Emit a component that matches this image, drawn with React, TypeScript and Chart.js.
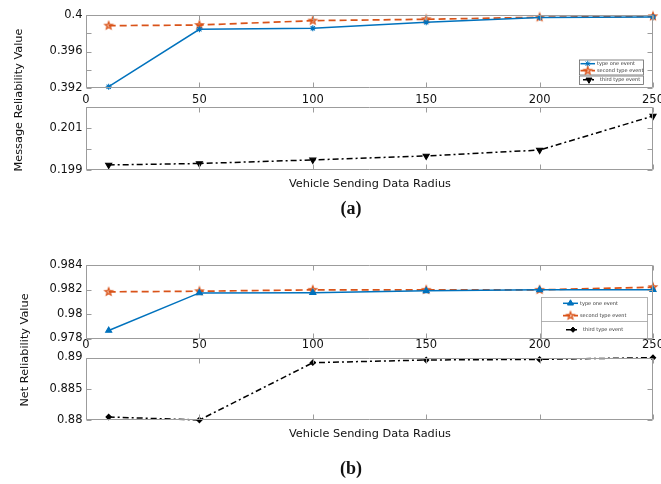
import React, { useEffect, useRef } from 'react';
import { Chart, registerables } from 'chart.js';
import { drawPoint } from 'chart.js/helpers';

Chart.register(...registerables);

// ---------- data ----------
const radius = [10, 50, 100, 150, 200, 250];
const xTicks = [0, 50, 100, 150, 200, 250];
const seriesLabels = ['type one event', 'second type event', 'third type event'];

// (a) Message Reliability Value
const msgTypeOne = [0.39214, 0.39843, 0.39854, 0.3992, 0.39973, 0.39978];
const msgTypeTwo = [0.39883, 0.3989, 0.39938, 0.39953, 0.39975, 0.39986];
const msgTypeThree = [0.19924, 0.19931, 0.19948, 0.19967, 0.19995, 0.20157];
const msgUpperTicks = [0.392, 0.394, 0.396, 0.398, 0.4];
const msgUpperTickLabels = ['0.392', '', '0.396', '', '0.4'];
const msgLowerTicks = [0.199, 0.2, 0.201, 0.202];
const msgLowerTickLabels = ['0.199', '', '0.201', ''];

// (b) Net Reliability Value
const netTypeOne = [0.97865, 0.98172, 0.98174, 0.98189, 0.98197, 0.98198];
const netTypeTwo = [0.98181, 0.98186, 0.98197, 0.98197, 0.98197, 0.98219];
const netTypeThree = [0.88048, 0.88, 0.88917, 0.8896, 0.8897, 0.88997];
const netUpperTicks = [0.978, 0.98, 0.982, 0.984];
const netUpperTickLabels = ['0.978', '0.98', '0.982', '0.984'];
const netLowerTicks = [0.88, 0.885, 0.89];
const netLowerTickLabels = ['0.88', '0.885', '0.89'];

// ---------- styling ----------
const W = 661;
const H = 484;
const PLOT_LEFT = 86;
const PLOT_RIGHT = 653;
const BLUE = '#0072BD';
const ORANGE = '#D95319';
const BLACK = '#000000';
const AXIS = '#9c9c9c';
const TEXT = '#111111';
const FONT = "'DejaVu Sans', Verdana, sans-serif";

type Series = {
  label: string;
  values: number[];
  color: string;
  width: number;
  dash: number[];
  pointStyle: string;
  radius: number;
  rotation: number;
};

type LegendEntry = { ds: number; y: number; x1: number; x2: number; tx: number };
type LegendGroup = { box: number[]; divider?: number; border: string; entries: LegendEntry[] };

type Sub = {
  top: number;
  bottom: number;
  min: number;
  max: number;
  ticks: number[];
  labels: string[];
  xLabels: boolean;
  xPad: number;
  series: Series[];
  legend?: LegendGroup[];
};

function pentagram(color: string, r: number): HTMLCanvasElement {
  const s = Math.ceil(r * 2 + 4);
  const c = document.createElement('canvas');
  c.width = s;
  c.height = s;
  const g = c.getContext('2d')!;
  g.translate(s / 2, s / 2);
  g.beginPath();
  for (let k = 0; k < 10; k++) {
    const rr = k % 2 === 0 ? r : r * 0.42;
    const a = -Math.PI / 2 + (k * Math.PI) / 5;
    const px = rr * Math.cos(a);
    const py = rr * Math.sin(a);
    if (k === 0) g.moveTo(px, py);
    else g.lineTo(px, py);
  }
  g.closePath();
  g.fillStyle = 'rgba(217,83,25,0.35)';
  g.fill();
  g.strokeStyle = color;
  g.lineWidth = 1.2;
  g.stroke();
  return c;
}

function makeFrame(legend?: LegendGroup[]) {
  return {
    id: 'frame',
    afterDraw(chart: any) {
      const { ctx, chartArea: a } = chart;
      const xs = chart.scales.x;
      const ys = chart.scales.y;
      const L = Math.round(a.left) + 0.5;
      const R = Math.round(a.right) - 0.5;
      const T = Math.round(a.top) + 0.5;
      const B = Math.round(a.bottom) - 0.5;
      const tl = 5;
      ctx.save();
      ctx.setLineDash([]);
      ctx.strokeStyle = AXIS;
      ctx.lineWidth = 1;
      ctx.beginPath();
      ctx.rect(L, T, R - L, B - T);
      xs.ticks.forEach((t: any) => {
        const p = Math.round(xs.getPixelForValue(t.value)) + 0.5;
        ctx.moveTo(p, T);
        ctx.lineTo(p, T + tl);
        ctx.moveTo(p, B);
        ctx.lineTo(p, B - tl);
      });
      ys.ticks.forEach((t: any) => {
        const p = Math.round(ys.getPixelForValue(t.value)) + 0.5;
        ctx.moveTo(L, p);
        ctx.lineTo(L + tl, p);
        ctx.moveTo(R, p);
        ctx.lineTo(R - tl, p);
      });
      ctx.stroke();

      if (legend) {
        legend.forEach((grp) => {
          const [x1, y1, x2, y2] = grp.box;
          ctx.fillStyle = '#ffffff';
          ctx.fillRect(x1, y1, x2 - x1, y2 - y1);
          ctx.strokeStyle = grp.border;
          ctx.lineWidth = 0.8;
          ctx.setLineDash([]);
          ctx.strokeRect(x1 + 0.5, y1 + 0.5, x2 - x1, y2 - y1);
          if (grp.divider !== undefined) {
            ctx.beginPath();
            ctx.moveTo(x1 + 0.5, grp.divider + 0.5);
            ctx.lineTo(x2 + 0.5, grp.divider + 0.5);
            ctx.stroke();
          }
          grp.entries.forEach((e) => {
            const ds: any = chart.data.datasets[e.ds];
            ctx.save();
            ctx.strokeStyle = ds.borderColor;
            ctx.lineWidth = ds.borderWidth;
            ctx.setLineDash(ds.borderDash || []);
            ctx.beginPath();
            ctx.moveTo(e.x1, e.y);
            ctx.lineTo(e.x2, e.y);
            ctx.stroke();
            ctx.setLineDash([]);
            ctx.fillStyle = ds.pointBackgroundColor;
            ctx.strokeStyle = ds.borderColor;
            ctx.lineWidth = 1;
            drawPoint(
              ctx,
              {
                pointStyle: ds.pointStyle,
                rotation: ds.pointRotation || 0,
                radius: ds.pointRadius,
                borderWidth: 1,
              } as any,
              (e.x1 + e.x2) / 2,
              e.y
            );
            ctx.restore();
            ctx.fillStyle = '#333333';
            ctx.font = `5px ${FONT}`;
            ctx.textBaseline = 'middle';
            ctx.textAlign = 'left';
            ctx.fillText(ds.label, e.tx, e.y);
          });
        });
      }
      ctx.restore();
    },
  };
}

function buildConfig(sub: Sub, star: HTMLCanvasElement): any {
  return {
    type: 'line',
    data: {
      datasets: sub.series.map((s) => ({
        label: s.label,
        data: radius.map((x, i) => ({ x, y: s.values[i] })),
        borderColor: s.color,
        backgroundColor: s.color,
        borderWidth: s.width,
        borderDash: s.dash,
        pointStyle: s.pointStyle === 'pentagram' ? star : s.pointStyle,
        pointRadius: s.radius,
        pointRotation: s.rotation,
        pointBorderWidth: 1.1,
        pointBackgroundColor: s.color,
        pointBorderColor: s.color,
        tension: 0,
        fill: false,
        clip: false,
      })),
    },
    options: {
      responsive: false,
      animation: false,
      devicePixelRatio: 1,
      events: [],
      layout: { padding: { left: 0, right: W - PLOT_RIGHT, top: sub.top, bottom: 0 } },
      plugins: { legend: { display: false }, tooltip: { enabled: false } },
      scales: {
        x: {
          type: 'linear',
          min: 0,
          max: 250,
          afterBuildTicks: (s: any) => {
            s.ticks = xTicks.map((value) => ({ value }));
          },
          afterFit: (s: any) => {
            s.height = H - sub.bottom;
            s.paddingLeft = 0;
            s.paddingRight = 0;
          },
          grid: { display: false, drawTicks: false },
          border: { display: false },
          ticks: {
            display: sub.xLabels,
            autoSkip: false,
            maxRotation: 0,
            padding: sub.xPad,
            color: TEXT,
            font: { family: FONT, size: 11.5 },
            callback: (v: number) => String(v),
          },
        },
        y: {
          type: 'linear',
          min: sub.min,
          max: sub.max,
          afterBuildTicks: (s: any) => {
            s.ticks = sub.ticks.map((value) => ({ value }));
          },
          afterFit: (s: any) => {
            s.width = PLOT_LEFT;
            s.paddingTop = 0;
            s.paddingBottom = 0;
          },
          grid: { display: false, drawTicks: false },
          border: { display: false },
          ticks: {
            padding: 3.5,
            color: TEXT,
            font: { family: FONT, size: 11.5 },
            callback: (v: number) => {
              const i = sub.ticks.findIndex((t) => Math.abs(t - v) < 1e-9);
              return i >= 0 ? sub.labels[i] : '';
            },
          },
        },
      },
    },
    plugins: [makeFrame(sub.legend)],
  };
}

const blueA: Omit<Series, 'values'> = { label: seriesLabels[0], color: BLUE, width: 1.5, dash: [], pointStyle: 'star', radius: 3, rotation: 0 };
const orange: Omit<Series, 'values'> = { label: seriesLabels[1], color: ORANGE, width: 1.7, dash: [7, 4], pointStyle: 'pentagram', radius: 4, rotation: 0 };
const blackA: Omit<Series, 'values'> = { label: seriesLabels[2], color: BLACK, width: 1.5, dash: [6, 3, 2, 3], pointStyle: 'triangle', radius: 3.5, rotation: 180 };
const blueB: Omit<Series, 'values'> = { label: seriesLabels[0], color: BLUE, width: 1.5, dash: [], pointStyle: 'triangle', radius: 3.5, rotation: 0 };
const blackB: Omit<Series, 'values'> = { label: seriesLabels[2], color: BLACK, width: 1.5, dash: [6, 3, 2, 3], pointStyle: 'rectRot', radius: 2.6, rotation: 0 };

const subplots: Sub[] = [
  {
    top: 15, bottom: 88, min: 0.392, max: 0.4, ticks: msgUpperTicks, labels: msgUpperTickLabels,
    xLabels: true, xPad: 5,
    series: [
      { ...blueA, values: msgTypeOne },
      { ...orange, values: msgTypeTwo },
      { ...blackA, values: msgTypeThree },
    ],
    legend: [
      {
        box: [579, 59.5, 643, 74.5], border: '#666666',
        entries: [
          { ds: 0, y: 63.7, x1: 580.5, x2: 595, tx: 597 },
          { ds: 1, y: 70.7, x1: 580.5, x2: 595, tx: 597 },
        ],
      },
      {
        box: [579, 75.5, 643, 84], border: '#666666',
        entries: [{ ds: 2, y: 79.8, x1: 583, x2: 595, tx: 600 }],
      },
    ],
  },
  {
    top: 107, bottom: 170, min: 0.199, max: 0.202, ticks: msgLowerTicks, labels: msgLowerTickLabels,
    xLabels: false, xPad: 0,
    series: [
      { ...blueA, values: msgTypeOne },
      { ...orange, values: msgTypeTwo },
      { ...blackA, values: msgTypeThree },
    ],
  },
  {
    top: 265, bottom: 338.5, min: 0.978, max: 0.984, ticks: netUpperTicks, labels: netUpperTickLabels,
    xLabels: true, xPad: 0,
    series: [
      { ...blueB, values: netTypeOne },
      { ...orange, values: netTypeTwo },
      { ...blackB, values: netTypeThree },
    ],
    legend: [
      {
        box: [541, 297, 647, 338], divider: 321, border: '#a0a0a0',
        entries: [
          { ds: 0, y: 303.3, x1: 563, x2: 578, tx: 580 },
          { ds: 1, y: 315.7, x1: 563, x2: 578, tx: 580 },
          { ds: 2, y: 329.7, x1: 566, x2: 580, tx: 583 },
        ],
      },
    ],
  },
  {
    top: 357.5, bottom: 420, min: 0.88, max: 0.89, ticks: netLowerTicks, labels: netLowerTickLabels,
    xLabels: false, xPad: 0,
    series: [
      { ...blueB, values: netTypeOne },
      { ...orange, values: netTypeTwo },
      { ...blackB, values: netTypeThree },
    ],
  },
];

const textStyle: React.CSSProperties = {
  position: 'absolute',
  whiteSpace: 'nowrap',
  fontFamily: FONT,
  fontSize: '11.3px',
  color: TEXT,
  lineHeight: 1,
};

function Label({ x, y, text, rotate, style }: { x: number; y: number; text: string; rotate?: boolean; style?: React.CSSProperties }) {
  return (
    <div
      style={{
        ...textStyle,
        left: x,
        top: y,
        transform: `translate(-50%, -50%)${rotate ? ' rotate(-90deg)' : ''}`,
        ...style,
      }}
    >
      {text}
    </div>
  );
}

export default function App() {
  const refs = [useRef<HTMLCanvasElement>(null), useRef<HTMLCanvasElement>(null), useRef<HTMLCanvasElement>(null), useRef<HTMLCanvasElement>(null)];

  useEffect(() => {
    const star = pentagram(ORANGE, 4);
    const charts = subplots.map((sub, i) => new Chart(refs[i].current!, buildConfig(sub, star)));
    return () => charts.forEach((c) => c.destroy());
  }, []);

  const captionStyle: React.CSSProperties = {
    fontFamily: "'Liberation Serif', 'DejaVu Serif', serif",
    fontWeight: 'bold',
    fontSize: '18px',
    color: '#111',
  };

  return (
    <div style={{ position: 'absolute', left: 0, top: 0, width: W, height: H, overflow: 'hidden', background: '#ffffff' }}>
      {refs.map((r, i) => (
        <canvas key={i} ref={r} width={W} height={H} style={{ position: 'absolute', left: 0, top: 0, width: W, height: H }} />
      ))}
      <Label x={19} y={100} text="Message Reliability Value" rotate />
      <Label x={370} y={184} text="Vehicle Sending Data Radius" />
      <Label x={351} y={208} text="(a)" style={captionStyle} />
      <Label x={25} y={350} text="Net Reliability Value" rotate />
      <Label x={370} y={434} text="Vehicle Sending Data Radius" />
      <Label x={351} y={468} text="(b)" style={captionStyle} />
    </div>
  );
}
